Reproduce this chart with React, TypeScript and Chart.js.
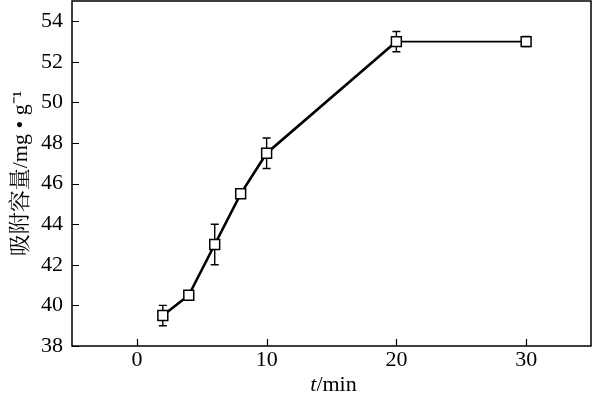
import React, { useEffect, useRef } from "react";
import { Chart, registerables } from "chart.js";

Chart.register(...registerables);

const timeValues = [2, 4, 6, 8, 10, 20, 30];
const capacityValues = [39.5, 40.5, 43.0, 45.5, 47.5, 53.0, 53.0];
const errorValues = [0.5, 0.15, 1.0, 0.15, 0.75, 0.5, 0.25];
const xTicks = [0, 10, 20, 30];
const yTicks = [38, 40, 42, 44, 46, 48, 50, 52, 54];
const yTitle = "吸附容量/mg • g⁻¹";

const FONT = "'Liberation Serif', 'Times New Roman', serif";
const CJK = "'Noto Serif CJK SC', 'Noto Sans CJK SC', serif";

export default function App() {
  const ref = useRef<HTMLCanvasElement | null>(null);
  useEffect(() => {
    document.body.style.margin = "0";
    const canvas = ref.current!;
    const decor = {
      id: "decor",
      beforeDatasetsDraw(chart: any) {
        const ctx = chart.ctx;
        const xs = chart.scales.x;
        const ys = chart.scales.y;
        ctx.save();
        ctx.strokeStyle = "#000";
        ctx.lineWidth = 1.4;
        timeValues.forEach((t, i) => {
          const x = xs.getPixelForValue(t);
          const y1 = ys.getPixelForValue(capacityValues[i] + errorValues[i]);
          const y2 = ys.getPixelForValue(capacityValues[i] - errorValues[i]);
          ctx.beginPath();
          ctx.moveTo(x, y1);
          ctx.lineTo(x, y2);
          ctx.moveTo(x - 4, y1);
          ctx.lineTo(x + 4, y1);
          ctx.moveTo(x - 4, y2);
          ctx.lineTo(x + 4, y2);
          ctx.stroke();
        });
        ctx.restore();
      },
      afterDraw(chart: any) {
        const ctx = chart.ctx;
        const a = chart.chartArea;
        const xs = chart.scales.x;
        const ys = chart.scales.y;
        ctx.save();
        ctx.strokeStyle = "#000";
        ctx.lineWidth = 1.5;
        ctx.strokeRect(a.left, a.top, a.right - a.left, a.bottom - a.top);
        ctx.beginPath();
        xTicks.forEach((v) => {
          const x = Math.round(xs.getPixelForValue(v)) + 0.5;
          ctx.moveTo(x, a.bottom);
          ctx.lineTo(x, a.bottom - 7);
        });
        yTicks.forEach((v) => {
          const y = Math.round(ys.getPixelForValue(v)) + 0.5;
          ctx.moveTo(a.left, y);
          ctx.lineTo(a.left + 7, y);
        });
        ctx.lineWidth = 1.2;
        ctx.stroke();

        // x title: italic t + /min
        ctx.fillStyle = "#000";
        ctx.textBaseline = "alphabetic";
        const cx = (a.left + a.right) / 2 + 2;
        const by = 391;
        ctx.font = `italic 22px ${FONT}`;
        const tw = ctx.measureText("t").width;
        ctx.font = `22px ${FONT}`;
        const rw = ctx.measureText("/min").width;
        const sx = cx - (tw + rw) / 2;
        ctx.font = `italic 22px ${FONT}`;
        ctx.textAlign = "left";
        ctx.fillText("t", sx, by);
        ctx.font = `22px ${FONT}`;
        ctx.fillText("/min", sx + tw, by);

        // y title
        ctx.save();
        ctx.translate(21, (a.top + a.bottom) / 2);
        ctx.rotate(-Math.PI / 2);
        ctx.textAlign = "center";
        ctx.textBaseline = "middle";
        ctx.font = `22px ${FONT}, ${CJK}`;
        ctx.fillText(yTitle, 0, 0);
        ctx.restore();
        ctx.restore();
      },
    };
    const chart = new Chart(canvas, {
      type: "line",
      data: {
        datasets: [
          {
            data: timeValues.map((t, i) => ({ x: t, y: capacityValues[i] })),
            borderColor: "#000",
            borderWidth: 2.6,
            pointStyle: "rect",
            pointRadius: 7,
            pointBorderWidth: 1.5,
            pointBorderColor: "#000",
            pointBackgroundColor: "#fff",
            tension: 0,
            segment: {
              borderWidth: (c: any) => (c.p0DataIndex === 5 ? 1.8 : 2.6),
            },
          },
        ],
      },
      options: {
        animation: false,
        responsive: false,
        maintainAspectRatio: false,
        layout: { autoPadding: false, padding: { top: 1, right: 2, left: 0, bottom: 0 } },
        plugins: { legend: { display: false }, tooltip: { enabled: false } },
        scales: {
          x: {
            type: "linear",
            min: -5,
            max: 35,
            afterBuildTicks: (s: any) => {
              s.ticks = xTicks.map((v) => ({ value: v }));
            },
            afterFit: (s: any) => {
              s.height = 53;
              s.paddingLeft = 0;
              s.paddingRight = 0;
              s.paddingTop = 0;
              s.paddingBottom = 0;
            },
            grid: { display: false, drawTicks: false },
            border: { display: false },
            ticks: {
              color: "#000",
              font: { family: FONT, size: 22 },
              padding: 1,
              maxRotation: 0,
            },
          },
          y: {
            type: "linear",
            min: 38,
            max: 55,
            afterBuildTicks: (s: any) => {
              s.ticks = yTicks.map((v) => ({ value: v }));
            },
            afterFit: (s: any) => {
              s.width = 72;
              s.paddingLeft = 0;
              s.paddingRight = 0;
              s.paddingTop = 0;
              s.paddingBottom = 0;
            },
            grid: { display: false, drawTicks: false },
            border: { display: false },
            ticks: {
              color: "#000",
              font: { family: FONT, size: 22 },
              padding: 9,
            },
          },
        },
      },
      plugins: [decor],
    } as any);
    return () => chart.destroy();
  }, []);
  return (
    <div style={{ width: 593, height: 399 }}>
      <canvas ref={ref} width={593} height={399} style={{ display: "block" }} />
    </div>
  );
}
